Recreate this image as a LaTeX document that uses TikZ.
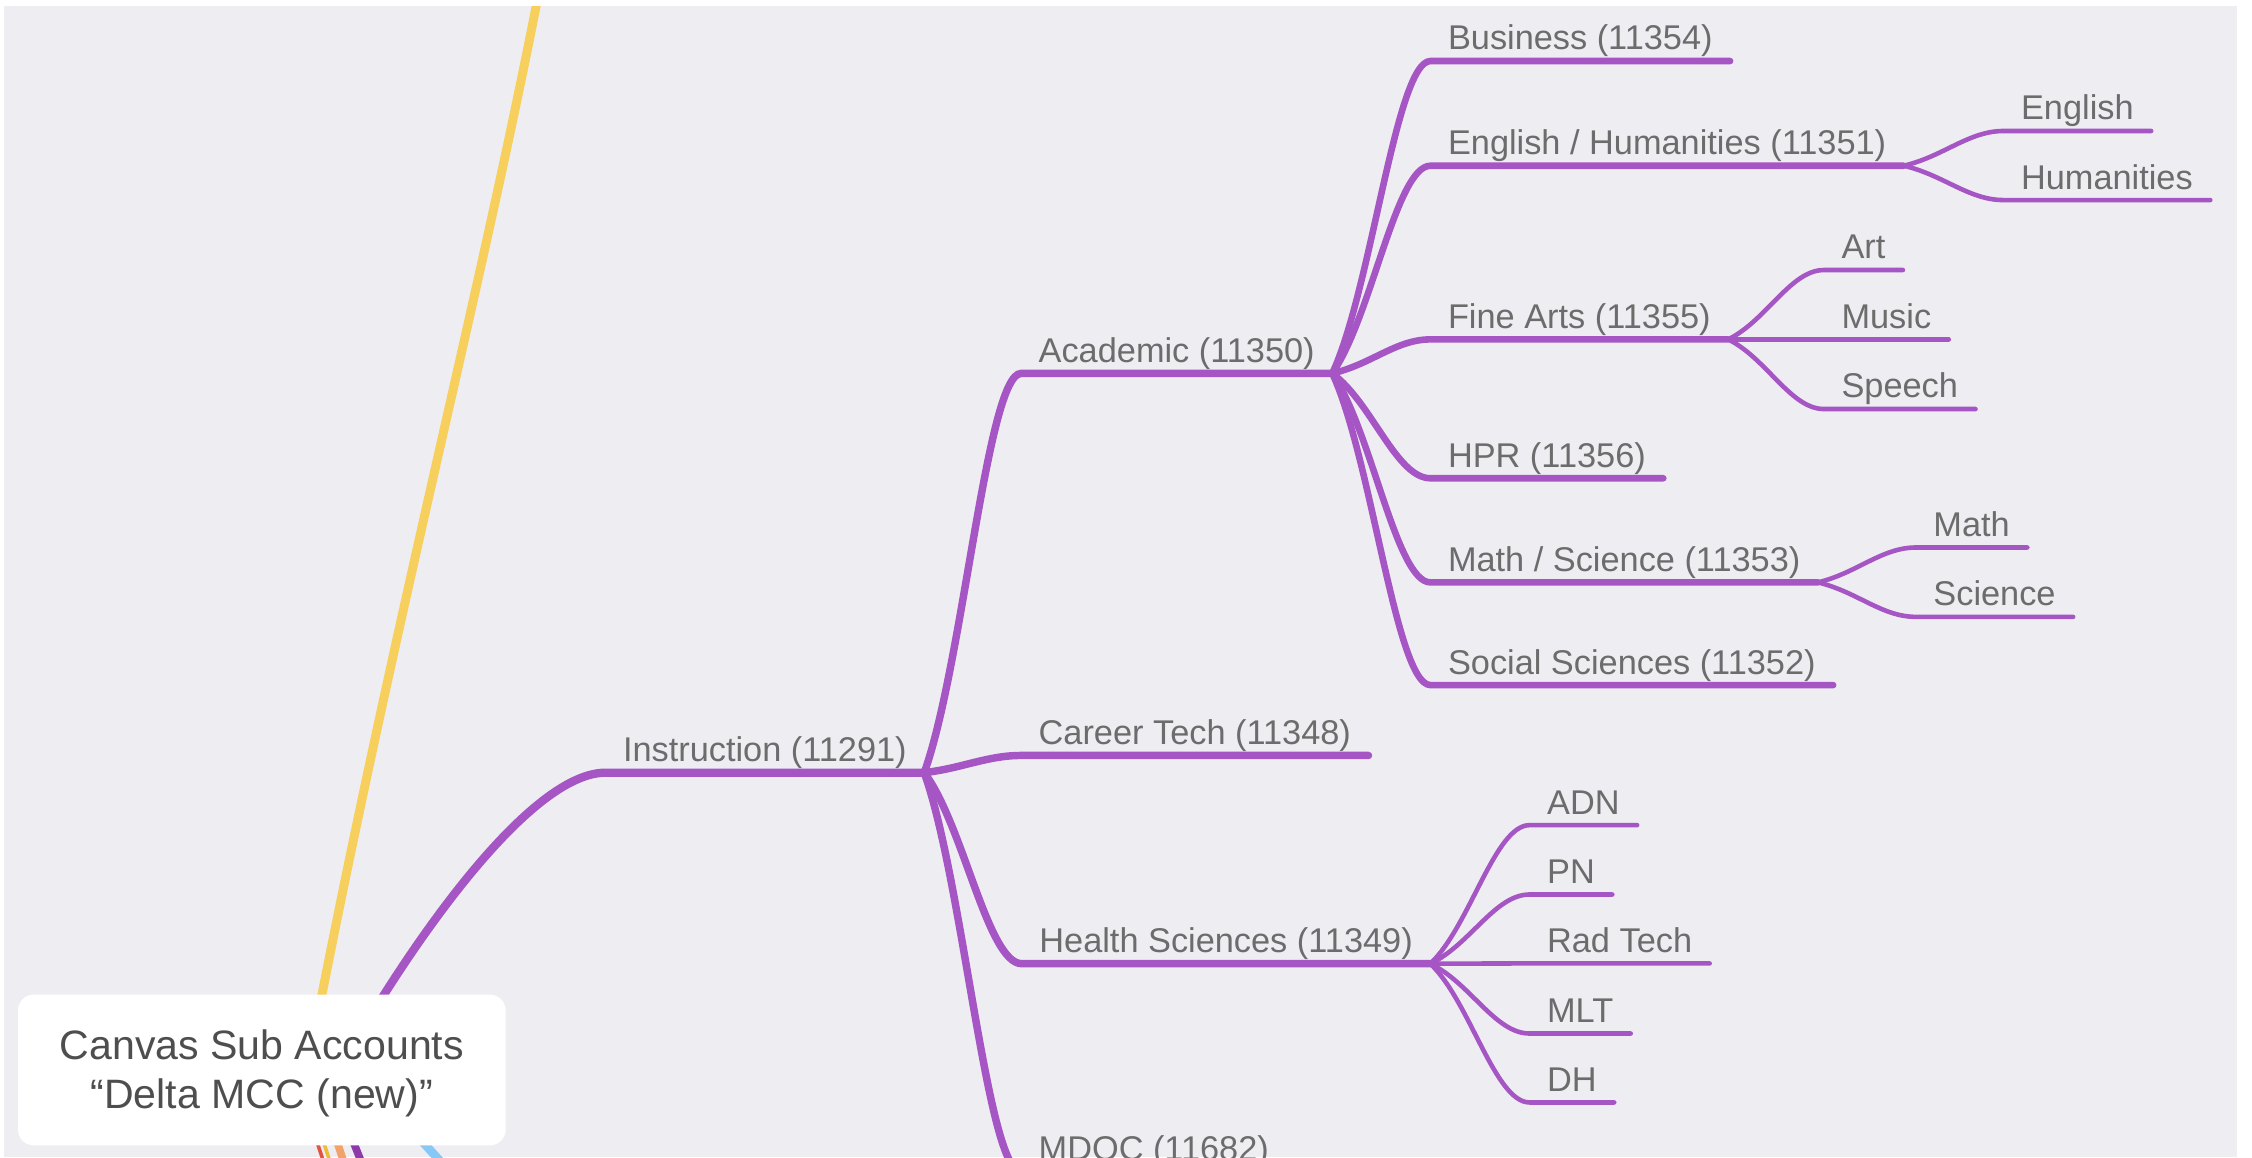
\documentclass[tikz,border=0pt]{standalone}
\usepackage{fontspec}
\setmainfont{Liberation Sans}
\usetikzlibrary{calc}
\definecolor{bg}{RGB}{238,237,242}
\definecolor{pur}{RGB}{166,86,196}
\definecolor{txt}{RGB}{108,108,108}
\definecolor{roottxt}{RGB}{78,78,78}
\definecolor{yel}{RGB}{247,207,92}
\definecolor{redb}{RGB}{226,84,66}
\definecolor{yelb}{RGB}{232,190,60}
\definecolor{orab}{RGB}{242,163,106}
\definecolor{purb}{RGB}{142,58,170}
\definecolor{blub}{RGB}{136,200,247}
\newcommand\branch[3]{%
  \draw[#1] let \p1=(#2), \p2=(#3.south west) in (#2)
    .. controls ({\x1+0.4*(\x2-\x1)},{\y1+0.27*(\y2-\y1)}) and ({\x2-0.35*(\x2-\x1)},\y2)
    .. (#3.south west) -- (#3.south east);}
\begin{document}
\begin{tikzpicture}[x=1pt,y=-1pt,
  lbl/.style={anchor=south west, inner xsep=12pt, inner ysep=3.5pt,
    text height=17pt, text depth=4pt, font=\fontsize{23.9}{28}\selectfont, text=txt},
  l1/.style={draw=pur, line width=5.8pt, line cap=round},
  l2/.style={draw=pur, line width=5.2pt, line cap=round},
  l3/.style={draw=pur, line width=4.6pt, line cap=round},
  l4/.style={draw=pur, line width=3.2pt, line cap=round},
  rootbox/.style={fill=white, rounded corners=11pt, minimum width=339.5pt,
    minimum height=105pt, inner sep=0pt},
  roottext/.style={align=center, font=\fontsize{28.6}{34}\selectfont, text=roottxt, inner sep=0pt},
  stub/.style={line cap=butt}]
\useasboundingbox (0,0) rectangle (1568,805.6);
\fill[white] (0,0) rectangle (1568,805.6);
\fill[bg] (2.5,4.2) rectangle (1557.6,805.6);
\begin{scope}
\clip (2.5,4.2) rectangle (1557.6,805.6);
% label nodes
\node[lbl] (ins) at (421.6,538) {Instruction (11291)};
\node[lbl] (aca) at (711,260) {Academic (11350)};
\node[lbl] (car) at (711,526) {Career Tech (11348)};
\node[lbl] (hea) at (711.5,671) {Health Sciences (11349)};
\node[lbl] (mdoc) at (711,816) {MDOC (11682)};
\node[lbl] (bus) at (996,42.5) {Business (11354)};
\node[lbl] (eng) at (996,115.4) {English / Humanities (11351)};
\node[lbl] (fin) at (996,236.3) {Fine Arts (11355)};
\node[lbl] (hpr) at (996,333) {HPR (11356)};
\node[lbl] (mat) at (996,405.5) {Math / Science (11353)};
\node[lbl] (soc) at (996,477) {Social Sciences (11352)};
\node[lbl] (eng1) at (1395,91.2) {English};
\node[lbl] (eng2) at (1395,139.3) {Humanities};
\node[lbl] (art) at (1270,188) {Art};
\node[lbl] (mus) at (1270,236.3) {Music};
\node[lbl] (spe) at (1270,284.8) {Speech};
\node[lbl] (mat1) at (1334,381.2) {Math};
\node[lbl] (mat2) at (1334,429.5) {Science};
\node[lbl] (adn) at (1065,574.5) {ADN};
\node[lbl] (pn) at (1065,622.8) {PN};
\node[lbl] (rad) at (1065,670.8) {Rad Tech};
\node[lbl] (mlt) at (1065,719.6) {MLT};
\node[lbl] (dh) at (1065,767.6) {DH};
% root-level connectors
\coordinate (rY) at (213,750);
\coordinate (yEnd) at (378,-20);
\draw[draw=yel, line width=6.2pt] (rY) .. controls (272,440) and (336,200) .. (yEnd);
\coordinate (rI) at (212,790);
\draw[l1] (rI) .. controls (262,690) and (362,538) .. (ins.south west) -- (ins.south east);
\coordinate (s1a) at (214,775); \coordinate (s1b) at (229,820);
\coordinate (s2a) at (218.5,775); \coordinate (s2b) at (233.5,820);
\coordinate (s3a) at (228,775); \coordinate (s3b) at (243,820);
\coordinate (s4a) at (238,775); \coordinate (s4b) at (256,820);
\coordinate (s5a) at (276,775); \coordinate (s5b) at (317,820);
\draw[stub, draw=redb, line width=2.5pt] (s1a) -- (s1b);
\draw[stub, draw=yelb, line width=2.5pt] (s2a) -- (s2b);
\draw[stub, draw=orab, line width=5.3pt] (s3a) -- (s3b);
\draw[stub, draw=purb, line width=5.3pt] (s4a) -- (s4b);
\draw[stub, draw=blub, line width=6pt] (s5a) -- (s5b);
% level 2
\branch{l2}{ins.south east}{aca}
\branch{l2}{ins.south east}{car}
\branch{l2}{ins.south east}{hea}
\branch{l2}{ins.south east}{mdoc}
% level 3
\branch{l3}{aca.south east}{bus}
\branch{l3}{aca.south east}{eng}
\branch{l3}{aca.south east}{fin}
\branch{l3}{aca.south east}{hpr}
\branch{l3}{aca.south east}{mat}
\branch{l3}{aca.south east}{soc}
% level 4
\branch{l4}{eng.south east}{eng1}
\branch{l4}{eng.south east}{eng2}
\branch{l4}{fin.south east}{art}
\branch{l4}{fin.south east}{mus}
\branch{l4}{fin.south east}{spe}
\branch{l4}{mat.south east}{mat1}
\branch{l4}{mat.south east}{mat2}
\branch{l4}{hea.south east}{adn}
\branch{l4}{hea.south east}{pn}
\branch{l4}{hea.south east}{rad}
\branch{l4}{hea.south east}{mlt}
\branch{l4}{hea.south east}{dh}
% root box
\node[rootbox] (root) at (182.3,745) {};
\node[roottext] (roottxt) at ([yshift=-2.5pt]root.center) {Canvas Sub Accounts\\“Delta MCC (new)”};
\end{scope}
\end{tikzpicture}
\end{document}
